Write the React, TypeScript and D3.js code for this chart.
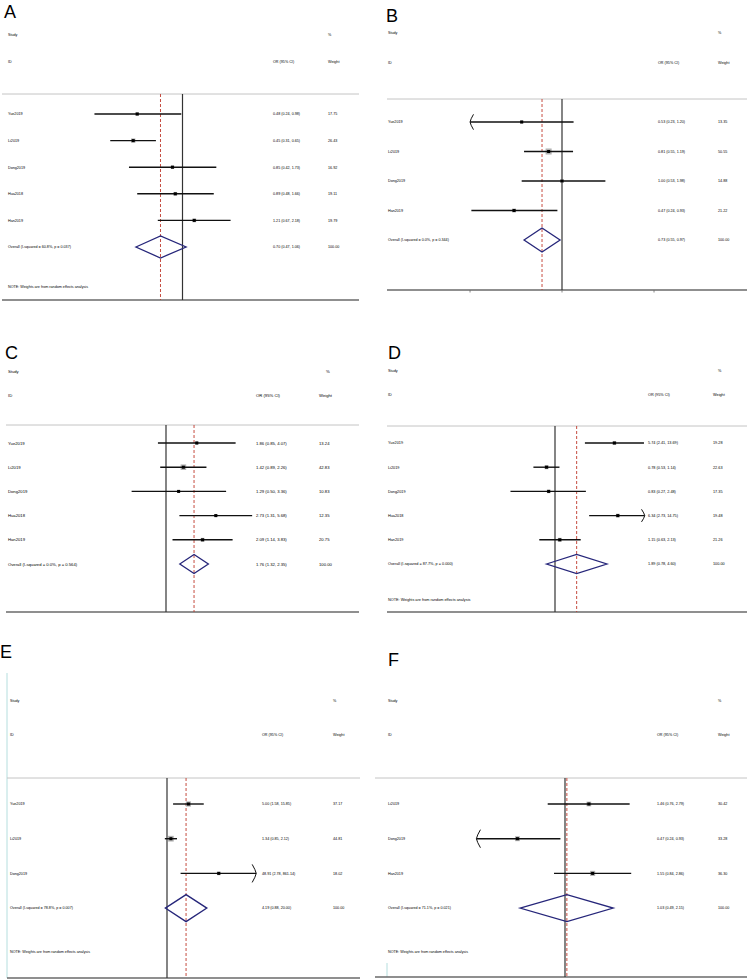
import React from 'react';
import * as d3 from 'd3';

// ---------- DATA ----------
const studiesA = ['Yue2019', 'Li2019', 'Dong2019', 'Hua2018', 'Han2019'];
const orA = [0.48, 0.45, 0.85, 0.89, 1.21];
const lowA = [0.24, 0.31, 0.42, 0.48, 0.67];
const highA = [0.98, 0.65, 1.73, 1.66, 2.18];
const weightA = [17.75, 26.43, 16.92, 19.11, 19.79];
const overallA = [0.70, 0.47, 1.06];
const hetA = ['60.8%', '0.037'];

const studiesB = ['Yue2019', 'Li2019', 'Dong2019', 'Han2019'];
const orB = [0.53, 0.81, 1.00, 0.47];
const lowB = [0.23, 0.55, 0.53, 0.24];
const highB = [1.20, 1.19, 1.98, 0.93];
const weightB = [13.35, 50.55, 14.88, 21.22];
const overallB = [0.73, 0.55, 0.97];
const hetB = ['0.0%', '0.344'];

const studiesC = ['Yue2019', 'Li2019', 'Dong2019', 'Hua2018', 'Han2019'];
const orC = [1.86, 1.42, 1.29, 2.73, 2.09];
const lowC = [0.85, 0.89, 0.50, 1.31, 1.14];
const highC = [4.07, 2.26, 3.36, 5.68, 3.83];
const weightC = [13.24, 42.83, 10.83, 12.35, 20.75];
const overallC = [1.76, 1.32, 2.35];
const hetC = ['0.0%', '0.564'];

const studiesD = ['Yue2019', 'Li2019', 'Dong2019', 'Hua2018', 'Han2019'];
const orD = [5.74, 0.78, 0.83, 6.34, 1.15];
const lowD = [2.41, 0.53, 0.27, 2.73, 0.63];
const highD = [13.69, 1.14, 2.48, 14.75, 2.13];
const weightD = [19.28, 22.63, 17.35, 19.48, 21.26];
const overallD = [1.89, 0.78, 4.60];
const hetD = ['87.7%', '0.000'];

const studiesE = ['Yue2019', 'Li2019', 'Dong2019'];
const orE = [5.00, 1.34, 48.91];
const lowE = [1.58, 0.85, 2.78];
const highE = [15.85, 2.12, 861.14];
const weightE = [37.17, 44.81, 18.02];
const overallE = [4.19, 0.88, 20.00];
const hetE = ['78.8%', '0.007'];

const studiesF = ['Li2019', 'Dong2019', 'Han2019'];
const orF = [1.46, 0.47, 1.55];
const lowF = [0.76, 0.24, 0.84];
const highF = [2.79, 0.93, 2.86];
const weightF = [30.42, 33.28, 36.30];
const overallF = [1.03, 0.49, 2.15];
const hetF = ['71.1%', '0.021'];

const noteText = 'NOTE: Weights are from random effects analysis';
const headerStudy = 'Study';
const headerId = 'ID';
const headerOr = 'OR (95% CI)';
const headerPct = '%';
const headerWeight = 'Weight';

const FONT = 'Liberation Sans, Arial, Helvetica, sans-serif';

type Layout = {
  letter: string; letterX: number; letterY: number;
  left: number; right: number; labelX: number; orX: number; wX: number; pctX: number;
  studyY: number; idY: number; topY: number; bottomY: number;
  rowY0: number; rowStep: number; noteY?: number; fs: number;
  x0: number; k: number; domain: [number, number]; ticks?: number[];
  diamondH: number; teal?: [number, number, number];
};

type Data = {
  studies: string[]; or: number[]; low: number[]; high: number[]; weight: number[];
  overall: number[]; het: string[];
};

function Panel({ L, D }: { L: Layout; D: Data }) {
  const x = d3.scaleLog()
    .domain(L.domain)
    .range([L.x0 + L.k * Math.log(L.domain[0]), L.x0 + L.k * Math.log(L.domain[1])]);
  const fmt = d3.format('.2f');
  const base = L.fs * 0.36;
  const rows = D.studies.map((s, i) => L.rowY0 + i * L.rowStep);
  const overallY = L.rowY0 + D.studies.length * L.rowStep;
  const ah = L.rowStep * 0.26;
  const aw = Math.max(3.2, ah * 0.45);
  const txt = (t: string, tx: number, ty: number, key?: string) => (
    <text key={key} x={tx} y={ty + base} fontSize={L.fs} fontFamily={FONT} fill="#000">{t}</text>
  );
  const [dLo, dHi] = L.domain;
  return (
    <g>
      <text x={L.letterX} y={L.letterY} fontSize={18} fontFamily={FONT} fill="#000">{L.letter}</text>
      {L.teal && (
        <line x1={L.teal[0]} x2={L.teal[0]} y1={L.teal[1]} y2={L.teal[2]} stroke="#b5dede" strokeWidth={1} />
      )}
      {txt(headerStudy, L.labelX, L.studyY)}
      {txt(headerPct, L.pctX, L.studyY)}
      {txt(headerId, L.labelX, L.idY)}
      {txt(headerOr, L.orX, L.idY)}
      {txt(headerWeight, L.wX, L.idY)}
      <line x1={L.left} x2={L.right} y1={L.topY} y2={L.topY} stroke="#c4c4c4" strokeWidth={1} />
      <line x1={L.left} x2={L.right} y1={L.bottomY} y2={L.bottomY} stroke="#6a6a6a" strokeWidth={1.3} />
      {(L.ticks || []).map((t, i) => (
        <line key={'t' + i} x1={x(t)} x2={x(t)} y1={L.bottomY} y2={L.bottomY + 2.5} stroke="#6a6a6a" strokeWidth={0.8} />
      ))}
      <line x1={x(1)} x2={x(1)} y1={L.topY} y2={L.bottomY} stroke="#333" strokeWidth={1.2} />
      <line x1={x(D.overall[0])} x2={x(D.overall[0])} y1={L.topY} y2={L.bottomY}
        stroke="#c0392b" strokeWidth={0.9} strokeDasharray="3,2" />
      {D.studies.map((s, i) => {
        const y = rows[i];
        const lo = Math.max(D.low[i], dLo);
        const hi = Math.min(D.high[i], dHi);
        const side = 0.85 * Math.sqrt(D.weight[i]);
        const cx = x(D.or[i]);
        const xl = x(lo);
        const xr = x(hi);
        return (
          <g key={s + i}>
            {txt(s, L.labelX, y)}
            <rect x={cx - side / 2} y={y - side / 2} width={side} height={side} fill="#b3b3b3" />
            <line x1={xl} x2={xr} y1={y} y2={y} stroke="#111" strokeWidth={1.4} />
            {D.low[i] < dLo && (
              <path d={`M${xl + aw},${y - ah} Q${xl + aw * 0.15},${y - ah * 0.35} ${xl},${y} Q${xl + aw * 0.15},${y + ah * 0.35} ${xl + aw},${y + ah}`}
                fill="none" stroke="#111" strokeWidth={1} />
            )}
            {D.high[i] > dHi && (
              <path d={`M${xr - aw},${y - ah} Q${xr - aw * 0.15},${y - ah * 0.35} ${xr},${y} Q${xr - aw * 0.15},${y + ah * 0.35} ${xr - aw},${y + ah}`}
                fill="none" stroke="#111" strokeWidth={1} />
            )}
            <rect x={cx - 1.5} y={y - 1.5} width={3} height={3} fill="#000" />
            {txt(`${fmt(D.or[i])} (${fmt(D.low[i])}, ${fmt(D.high[i])})`, L.orX, y)}
            {txt(fmt(D.weight[i]), L.wX, y)}
          </g>
        );
      })}
      {txt(`Overall  (I-squared = ${D.het[0]}, p = ${D.het[1]})`, L.labelX, overallY)}
      <path
        d={`M${x(D.overall[1])},${overallY} L${x(D.overall[0])},${overallY - L.diamondH / 2} L${x(D.overall[2])},${overallY} L${x(D.overall[0])},${overallY + L.diamondH / 2} Z`}
        fill="none" stroke="#26267a" strokeWidth={1.3} />
      {txt(`${fmt(D.overall[0])} (${fmt(D.overall[1])}, ${fmt(D.overall[2])})`, L.orX, overallY)}
      {txt(fmt(d3.sum(D.weight)), L.wX, overallY)}
      {L.noteY !== undefined && txt(noteText, L.labelX, L.noteY)}
    </g>
  );
}

const layoutA: Layout = {
  letter: 'A', letterX: 4, letterY: 18, left: 2, right: 359, labelX: 8, orX: 273, wX: 328, pctX: 328,
  studyY: 35, idY: 62, topY: 94, bottomY: 300, rowY0: 114, rowStep: 26.6, noteY: 287, fs: 3.7,
  x0: 182.5, k: 61.7, domain: [0.2, 5], diamondH: 22,
};
const layoutB: Layout = {
  letter: 'B', letterX: 386, letterY: 22, left: 387, right: 747, labelX: 388, orX: 658, wX: 718, pctX: 718,
  studyY: 33, idY: 63, topY: 99, bottomY: 290, rowY0: 122, rowStep: 29.5, fs: 3.7,
  x0: 562, k: 63.5, domain: [0.235, 4.26], ticks: [0.235, 1, 4.26], diamondH: 24,
};
const layoutC: Layout = {
  letter: 'C', letterX: 5, letterY: 359, left: 6, right: 359, labelX: 8, orX: 256, wX: 319, pctX: 326,
  studyY: 371, idY: 395, topY: 425, bottomY: 612, rowY0: 443, rowStep: 24.2, fs: 4.2,
  x0: 166, k: 49.6, domain: [0.175, 5.71], diamondH: 19,
};
const layoutD: Layout = {
  letter: 'D', letterX: 388, letterY: 359, left: 387, right: 747, labelX: 388, orX: 648, wX: 713, pctX: 718,
  studyY: 371, idY: 395, topY: 426, bottomY: 612, rowY0: 443, rowStep: 24.2, noteY: 600, fs: 3.8,
  x0: 555, k: 34, domain: [0.0714, 14], diamondH: 19,
};
const layoutE: Layout = {
  letter: 'E', letterX: 0, letterY: 658, left: 7, right: 360, labelX: 10, orX: 262, wX: 333, pctX: 333,
  studyY: 701, idY: 735, topY: 778, bottomY: 978, rowY0: 804, rowStep: 34.7, noteY: 952, fs: 3.7,
  x0: 167, k: 13.3, domain: [0.00125, 820], diamondH: 27, teal: [7, 673, 978],
};
const layoutF: Layout = {
  letter: 'F', letterX: 388, letterY: 666, left: 375, right: 747, labelX: 388, orX: 657, wX: 718, pctX: 718,
  studyY: 701, idY: 735, topY: 778, bottomY: 977, rowY0: 804, rowStep: 34.7, noteY: 952, fs: 3.7,
  x0: 565, k: 63, domain: [0.245, 4.08], diamondH: 27, teal: [387, 963, 977],
};

export default function App() {
  return (
    <svg width={751} height={979} viewBox="0 0 751 979"
      style={{ position: 'absolute', left: 0, top: 0, display: 'block', background: '#fff' }}>
      <rect x={0} y={0} width={751} height={979} fill="#fff" />
      <Panel L={layoutA} D={{ studies: studiesA, or: orA, low: lowA, high: highA, weight: weightA, overall: overallA, het: hetA }} />
      <Panel L={layoutB} D={{ studies: studiesB, or: orB, low: lowB, high: highB, weight: weightB, overall: overallB, het: hetB }} />
      <Panel L={layoutC} D={{ studies: studiesC, or: orC, low: lowC, high: highC, weight: weightC, overall: overallC, het: hetC }} />
      <Panel L={layoutD} D={{ studies: studiesD, or: orD, low: lowD, high: highD, weight: weightD, overall: overallD, het: hetD }} />
      <Panel L={layoutE} D={{ studies: studiesE, or: orE, low: lowE, high: highE, weight: weightE, overall: overallE, het: hetE }} />
      <Panel L={layoutF} D={{ studies: studiesF, or: orF, low: lowF, high: highF, weight: weightF, overall: overallF, het: hetF }} />
    </svg>
  );
}
